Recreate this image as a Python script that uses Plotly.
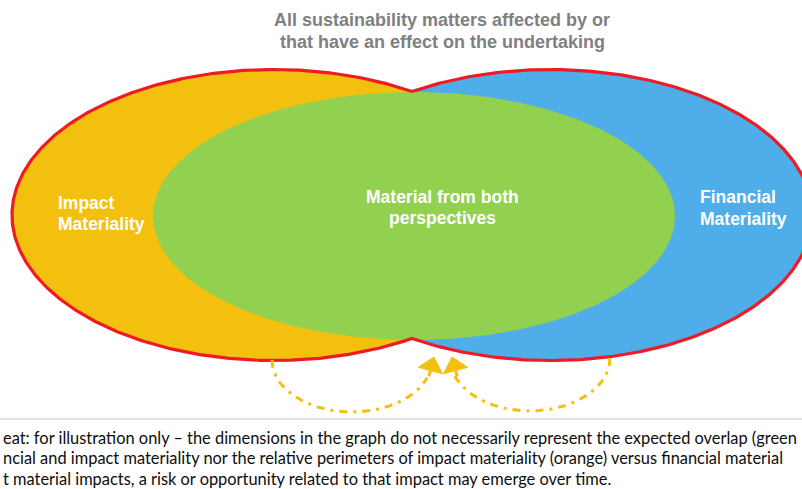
import numpy as np
import plotly.graph_objects as go

W, H = 802, 489

# ---- diagram parameters (pixel space) ----
ellipse_names = ["Impact Materiality", "Financial Materiality", "Material from both perspectives"]
ellipse_cx = [273.6, 550.4, 414.0]
ellipse_cy = [215.0, 215.0, 216.0]
ellipse_a = [261.6, 261.6, 261.0]
ellipse_b = [145.5, 145.5, 124.0]
ellipse_colors = ["#F4C010", "#4FADEA", "#92D050"]
outline_color = "#EE1B24"

title_lines = ["All sustainability matters affected by or", "that have an effect on the undertaking"]
left_label = ["Impact", "Materiality"]
center_label = ["Material from both", "perspectives"]
right_label = ["Financial", "Materiality"]
caveat_lines = [
    "eat: for illustration only \u2013 the dimensions in the graph do not necessarily represent the expected overlap (green",
    "ncial and impact materiality nor the relative perimeters of impact materiality (orange) versus financial material",
    "t material impacts, a risk or opportunity related to that impact may emerge over time.",
]

# feedback arcs: centre x, centre y, half width, half height, start angle, end angle (deg)
arc_params = [
    (352.0, 360.0, 80.0, 52.0, 180.0, 20.0),
    (530.0, 358.0, 80.0, 53.0, 0.0, 160.0),
]
# arrowheads: tip x, tip y, direction (deg, screen), length, width
arrow_params = [
    (434.0, 357.0, -75.0, 14.0, 25.0),
    (452.0, 357.0, -105.0, 14.0, 25.0),
]
arrow_color = "#F4C010"


def ellipse_pts(cx, cy, a, b, t0, t1, n=400):
    t = np.linspace(np.radians(t0), np.radians(t1), n)
    return cx + a * np.cos(t), cy + b * np.sin(t)


fig = go.Figure()

# filled ellipses
for cx, cy, a, b, col in zip(ellipse_cx, ellipse_cy, ellipse_a, ellipse_b, ellipse_colors):
    x, y = ellipse_pts(cx, cy, a, b, 0, 360)
    fig.add_trace(go.Scatter(x=x, y=y, mode="lines", fill="toself", fillcolor=col,
                             line=dict(width=0, color=col), hoverinfo="skip"))

# union outline: intersection of the two outer ellipses (symmetric case)
xm = (ellipse_cx[0] + ellipse_cx[1]) / 2
dx = (xm - ellipse_cx[0]) / ellipse_a[0]
ang = np.degrees(np.arccos(dx))
lx, ly = ellipse_pts(ellipse_cx[0], ellipse_cy[0], ellipse_a[0], ellipse_b[0], -ang, -360 + ang)
rx, ry = ellipse_pts(ellipse_cx[1], ellipse_cy[1], ellipse_a[1], ellipse_b[1], 180 - ang, -180 + ang)
ux = np.concatenate([lx, rx, lx[:1]])
uy = np.concatenate([ly, ry, ly[:1]])
fig.add_trace(go.Scatter(x=ux, y=uy, mode="lines", line=dict(color=outline_color, width=3.2),
                         hoverinfo="skip"))

# dash-dot feedback arcs
for cx, cy, a, b, t0, t1 in arc_params:
    x, y = ellipse_pts(cx, cy, a, b, t0, t1, 200)
    fig.add_trace(go.Scatter(x=x, y=y, mode="lines",
                             line=dict(color=arrow_color, width=3, dash="8px,6px,3px,6px"),
                             hoverinfo="skip"))

# arrowheads
for tx, ty, d, L, Wd in arrow_params:
    th = np.radians(d)
    ux_, uy_ = np.cos(th), np.sin(th)
    px, py = -uy_, ux_
    bx, by = tx - L * ux_, ty - L * uy_
    xs = [tx, bx + px * Wd / 2, bx - px * Wd / 2, tx]
    ys = [ty, by + py * Wd / 2, by - py * Wd / 2, ty]
    fig.add_trace(go.Scatter(x=xs, y=ys, mode="lines", fill="toself", fillcolor=arrow_color,
                             line=dict(color=arrow_color, width=1), hoverinfo="skip"))
    fig.add_trace(go.Scatter(x=[bx, bx - 6 * ux_], y=[by, by - 6 * uy_], mode="lines",
                             line=dict(color=arrow_color, width=3), hoverinfo="skip"))

# separator line
fig.add_shape(type="line", x0=0, x1=W, y0=419, y1=419, line=dict(color="#D9D9D9", width=1.5))

ann = []
for i, t in enumerate(title_lines):
    ann.append(dict(x=442, y=20 + 22 * i, text=t, showarrow=False, xanchor="center", yanchor="middle",
                    font=dict(family="Liberation Sans", size=18, color="#808080", weight="bold")))
for i, t in enumerate(left_label):
    ann.append(dict(x=56, y=203 + 21 * i, text=t, showarrow=False, xanchor="left", yanchor="middle",
                    font=dict(family="Liberation Sans", size=17.5, color="white", weight="bold")))
for i, t in enumerate(center_label):
    ann.append(dict(x=442, y=197 + 20.5 * i, text=t, showarrow=False, xanchor="center", yanchor="middle",
                    font=dict(family="Liberation Sans", size=17.5, color="white", weight="bold")))
for i, t in enumerate(right_label):
    ann.append(dict(x=698, y=197 + 22 * i, text=t, showarrow=False, xanchor="left", yanchor="middle",
                    font=dict(family="Liberation Sans", size=17.5, color="white", weight="bold")))
for i, t in enumerate(caveat_lines):
    ann.append(dict(x=1, y=437 + 20.5 * i, text=t, showarrow=False, xanchor="left", yanchor="middle",
                    font=dict(family="Lato", size=16.4, color="#0D0D0D")))

fig.update_layout(
    width=W, height=H, margin=dict(l=0, r=0, t=0, b=0),
    paper_bgcolor="white", plot_bgcolor="white", showlegend=False,
    xaxis=dict(range=[0, W], visible=False, fixedrange=True),
    yaxis=dict(range=[H, 0], visible=False, fixedrange=True),
    annotations=[dict(a, xref="x", yref="y") for a in ann],
    hovermode=False,
)
fig.write_html("out.html", config={"displayModeBar": False},
               post_script="document.body.style.margin='0';document.body.style.overflow='hidden';")
